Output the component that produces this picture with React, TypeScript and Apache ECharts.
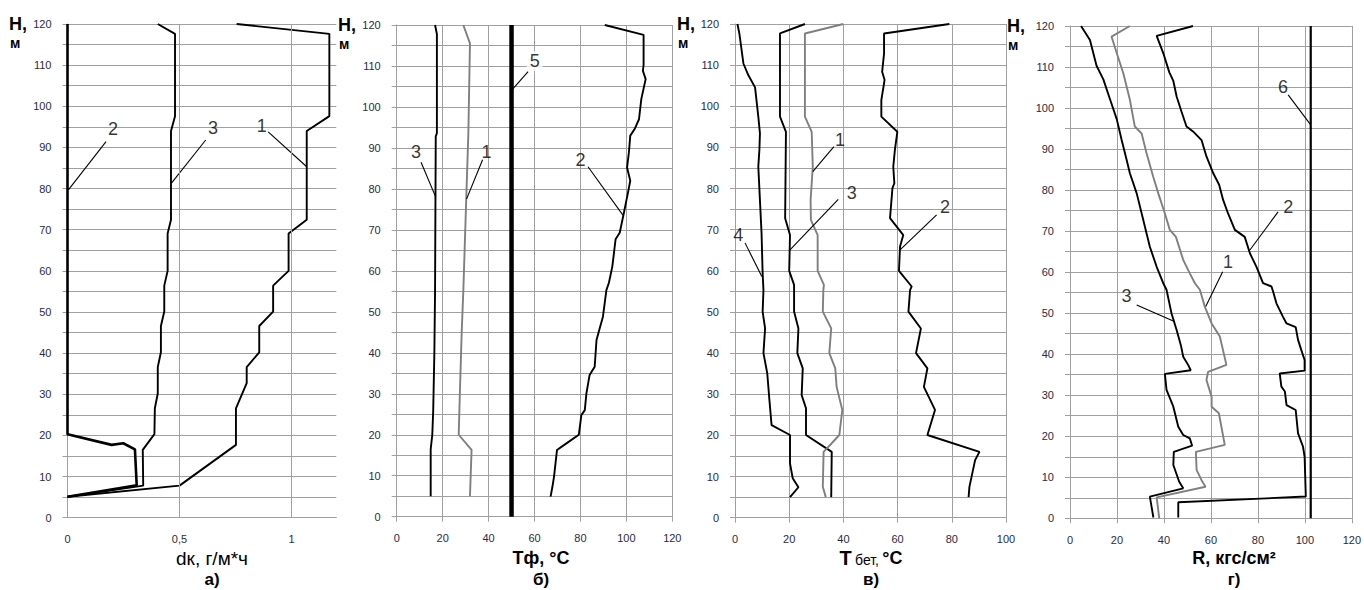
import React, { useEffect, useRef } from "react";
import * as echarts from "echarts";

// ---------- Panel а) dк, г/м*ч : points [value, H] ----------
const dk1 = [[0.755, 120], [1.169, 117.6], [1.169, 97.6], [1.068, 94], [1.068, 72.4], [0.987, 69.1], [0.987, 60], [0.918, 56.4], [0.918, 50.1], [0.856, 46.6], [0.856, 40.2], [0.8, 36.6], [0.8, 32.7], [0.752, 26.6], [0.752, 17.7], [0.5, 7.8], [0, 5.1]];
const dk2 = [[0, 120], [0, 20.3], [0.197, 17.7], [0.249, 18.1], [0.301, 16.6], [0.309, 7.9], [0, 5.1]];
const dk3 = [[0.403, 120], [0.48, 117.6], [0.48, 97.6], [0.462, 94], [0.462, 72.4], [0.447, 69.1], [0.447, 60], [0.432, 56.4], [0.432, 50.1], [0.417, 46.6], [0.417, 40.2], [0.403, 36.6], [0.403, 30.2], [0.39, 26.6], [0.388, 20.3], [0.336, 16.5], [0.338, 7.8], [0, 5.1]];

// ---------- Panel б) Tф, °C ----------
const tf1 = [[29, 120], [31.9, 115.5], [31.2, 93.6], [30.4, 79.7], [29, 55], [28.3, 45], [27.5, 30], [27, 20], [32.6, 16.3], [31.9, 5]];
const tf2 = [[90.6, 120], [107.5, 117.6], [107.5, 110.3], [107.2, 108.8], [108.4, 106.8], [106.5, 101.9], [105.5, 97], [103.6, 94.6], [101.7, 93], [101.1, 88.9], [100.3, 85.2], [101.7, 82], [100.7, 79.1], [98.8, 73.8], [97.1, 69.3], [95.3, 67.7], [93.9, 61.1], [92.4, 57.1], [91.3, 55.3], [89.8, 48.8], [88.4, 46], [87, 43.1], [86.2, 36.6], [84, 34.6], [82.6, 30.1], [81.9, 26], [80.4, 24.8], [79.3, 20], [73.9, 17.9], [69.8, 16.3], [68.5, 9.8], [67.8, 7.3], [67, 4.9]];
const tf3 = [[16.7, 120], [17.5, 117.8], [17.5, 93.6], [17, 92.8], [16.7, 55], [16.4, 40], [15.9, 26], [15.5, 20], [14.8, 16.5], [14.8, 5]];
const tf5 = [[50, 0], [50, 120]];

// ---------- Panel в) T бет, °C ----------
const tb1 = [[40, 120], [25.8, 117.7], [25.8, 97.5], [28.3, 93.8], [28.7, 85.3], [27.9, 77.2], [28, 72.4], [30.5, 68.7], [30.5, 60], [32.8, 56.6], [32.6, 55.3], [32.4, 50.1], [35.5, 46], [34.8, 40], [37, 36.3], [37.5, 31.8], [39.6, 26.2], [38.5, 20.1], [32.7, 16], [32.4, 7.5], [33.5, 5]];
const tb2 = [[79.1, 120], [55, 117.7], [55, 112.8], [54.3, 108.4], [55.2, 106.4], [54, 101.5], [54, 97.5], [59.9, 93.8], [59, 89.4], [58.4, 85.3], [58.8, 81.3], [58.1, 80.1], [57.2, 72.8], [62.1, 68.7], [60.9, 65.9], [60.5, 60], [65.2, 56.2], [64.6, 55.3], [64, 50.1], [68.6, 46], [66.8, 40], [71, 36.3], [69.7, 31.8], [73.8, 26.2], [71, 20.1], [90.2, 16], [88.6, 14], [86.5, 7.5], [86.2, 5]];
const tb3 = [[25.8, 120], [16.6, 117.7], [16.6, 97.5], [18.8, 93.8], [18.5, 72.8], [20.3, 68.7], [20, 60], [21.8, 56.6], [21.8, 50.1], [23.4, 46], [23, 40], [25, 36.3], [24.6, 29.8], [26.2, 26.6], [26.2, 20.1], [35.7, 16], [35.5, 5]];
const tb4 = [[0.9, 120], [1.6, 117.7], [3.1, 110.4], [4.9, 107.6], [7.4, 104.6], [8.6, 97.5], [9.2, 93.4], [9, 89.4], [8.6, 85.3], [9.2, 77.2], [9.8, 69.1], [10.2, 59.4], [10.5, 55.3], [10.2, 50.1], [11.1, 46], [10.5, 40], [11.9, 35.1], [12.7, 28.6], [13.5, 22.5], [20.3, 20.1], [20.3, 13.2], [21.3, 9.6], [23.4, 7.4], [20.3, 5]];

// ---------- Panel г) R, кгс/см² ----------
const r1 = [[25.5, 120], [17.7, 117.4], [19.9, 113.4], [22.7, 108.5], [25.5, 102], [27.6, 95.5], [30.5, 93.8], [32.6, 89], [35.4, 83.3], [37.6, 79.2], [40.4, 74.3], [42.5, 70.3], [45.1, 68.6], [48.2, 63], [51, 59.7], [53.2, 57.3], [55.3, 55.7], [57.4, 51.6], [60.3, 47.5], [63.8, 44.3], [66.6, 37.4], [58.8, 35.7], [58.1, 33.7], [60.3, 29.6], [60.3, 27.2], [63.4, 25.6], [65.9, 17.9], [53.6, 16.2], [53.9, 11.8], [56, 9.3], [57.7, 7.7], [36.9, 5.1], [38, 0]];
const r2 = [[52.4, 120], [36.9, 117.6], [39.7, 113.4], [42.3, 108.7], [44, 106.6], [45.4, 102.8], [47.5, 99.1], [49.6, 95.5], [52.4, 94.3], [56, 92.2], [58.1, 88.2], [61, 84.1], [63.5, 81.3], [65.2, 77.6], [67.3, 74.3], [70.2, 70.3], [74.4, 68.6], [76.6, 64.6], [79.4, 61.3], [82.2, 57.3], [85.8, 56.5], [86.5, 55.2], [87.9, 52.4], [90.7, 49.1], [92.2, 47.5], [96.1, 46.6], [97.1, 43.5], [98.5, 41], [99.9, 38.6], [99.9, 36], [89.3, 35.3], [90, 32.1], [91.5, 30.9], [92.2, 27.6], [96.1, 26.4], [97.1, 20.7], [99.2, 17.5], [99.9, 15], [100.4, 5.3], [46.1, 3.9], [46.1, 0.2]];
const r3 = [[4.7, 120], [8.5, 116.6], [11.3, 110.3], [14.2, 107], [17, 102.2], [19.9, 97.3], [22, 92.2], [24.1, 87.4], [25.5, 84.1], [28.4, 79.2], [31.2, 72.7], [34, 66.2], [36.9, 61.3], [39.7, 57.3], [41.1, 55.7], [43.2, 50], [45.4, 45.9], [47.2, 42.2], [48.2, 39.4], [50.3, 37.4], [51.4, 36.1], [40.4, 35.2], [41.1, 31.3], [44, 27.2], [46.1, 22.3], [48.2, 20.3], [51, 19.5], [52, 17.7], [44.2, 16.2], [44, 13], [46.5, 8.9], [48.2, 7.3], [34, 5.3], [35.5, 0.2]];
const r6 = [[102.5, 0], [102.5, 120]];

// ---------- Axis ranges / tick labels ----------
const xMax = [1.2, 120, 100, 120];
const xStep = [0.5, 20, 20, 20];
const dkGridValues = [0.5, 1];
const hMax = 120;
const hStep = 5;
const hLabelStep = 10;

// ---------- Callout numbers: panel, text, label position, leader line from -> to ----------
const calloutPanel = [0, 0, 0, 1, 1, 1, 1, 2, 2, 2, 2, 3, 3, 3, 3];
const calloutText = ["2", "3", "1", "3", "1", "5", "2", "1", "3", "2", "4", "6", "2", "1", "3"];
const calloutAt = [[0.203, 94.5], [0.65, 94.7], [0.867, 95.2], [8.4, 89.1], [39.1, 89.1], [60.1, 111.2], [80, 87.1], [38.7, 91.8], [43.1, 79], [77.5, 75.4], [1.2, 68.7], [90.7, 105.2], [92.9, 76], [67.3, 62.5], [24.1, 54.2]];
const calloutFrom = [[0.172, 91.4], [0.617, 91.8], [0.896, 93.8], [10.6, 86.5], [37.4, 87.1], [57.2, 108.6], [83.3, 85.4], [36.5, 90.2], [38.1, 77.4], [74.4, 73.6], [3.7, 66.8], [92.9, 103.2], [88.6, 74.7], [65, 60.1], [28.4, 52]];
const calloutTo = [[0.004, 79.7], [0.465, 81.4], [1.068, 85.3], [17, 78], [30.4, 77.5], [50.4, 104.3], [98.5, 73.6], [28.7, 84.1], [20.3, 65.1], [60.9, 65.1], [9.9, 58.6], [102.5, 95.9], [76.6, 65.4], [57.8, 51.6], [44.7, 47.9]];

const FONT = "'Liberation Sans', Arial, sans-serif";
const GRID = "#a0a0a0";
const LABEL = "#2a2a44";
const GREY = "#7f7f7f";

const grids = [
  { left: 67.5, top: 24, width: 268.8, height: 493.7 },
  { left: 396.7, top: 25, width: 275.6, height: 491.7 },
  { left: 735, top: 24, width: 271, height: 493.7 },
  { left: 1070, top: 26, width: 282.3, height: 492.3 },
];
const hPos = [9, 338, 677, 1007];
const titleX = [212, 541, 871, 1234];

function line(gi: number, data: number[][], color: string, width: number) {
  return {
    type: "line",
    xAxisIndex: gi,
    yAxisIndex: gi,
    data,
    symbol: "none",
    silent: true,
    lineStyle: { color, width },
    z: 3,
  };
}

export default function App() {
  const ref = useRef<HTMLDivElement>(null);
  useEffect(() => {
    if (!ref.current) return;
    const chart = echarts.init(ref.current, null, { renderer: "svg" });

    const xAxes = xMax.map((mx, i) => ({
      type: "value",
      gridIndex: i,
      min: 0,
      max: mx,
      interval: xStep[i],
      axisLine: { show: true, onZero: false, lineStyle: { color: GRID } },
      axisTick: { show: i !== 0, length: 5, lineStyle: { color: GRID } },
      axisLabel: {
        margin: 16,
        fontSize: 11,
        color: LABEL,
        fontFamily: FONT,
        showMaxLabel: i !== 0,
        formatter: (v: number) => {
          const r = v / xStep[i];
          if (Math.abs(r - Math.round(r)) > 1e-6) return "";
          return String(v).replace(".", ",");
        },
      },
      splitLine: { show: i !== 0, lineStyle: { color: GRID, width: 1 } },
    }));

    const yAxes = grids.map((_, i) => ({
      type: "value",
      gridIndex: i,
      min: 0,
      max: hMax,
      interval: hStep,
      axisLine: { show: true, lineStyle: { color: GRID } },
      axisTick: { show: true, length: 5, lineStyle: { color: GRID } },
      axisLabel: {
        margin: 16,
        fontSize: 11,
        color: LABEL,
        fontFamily: FONT,
        formatter: (v: number) => (v % hLabelStep === 0 ? String(v) : ""),
      },
      splitLine: { show: true, lineStyle: { color: GRID, width: 1 } },
    }));

    const series: any[] = [
      {
        type: "line",
        xAxisIndex: 0,
        yAxisIndex: 0,
        data: [],
        symbol: "none",
        silent: true,
        z: 1,
        markLine: {
          silent: true,
          symbol: "none",
          label: { show: false },
          lineStyle: { color: GRID, width: 1, type: "solid" },
          data: dkGridValues.map((v) => ({ xAxis: v })),
        },
      },
      line(0, dk3, "#000", 1.9),
      line(0, dk1, "#000", 1.9),
      line(0, dk2, "#000", 2.6),
      line(1, tf1, GREY, 1.9),
      line(1, tf3, "#000", 1.9),
      line(1, tf2, "#000", 1.9),
      line(1, tf5, "#000", 4.5),
      line(2, tb4, "#000", 1.9),
      line(2, tb3, "#000", 1.9),
      line(2, tb1, GREY, 1.9),
      line(2, tb2, "#000", 1.9),
      line(3, r3, "#000", 1.9),
      line(3, r1, GREY, 1.9),
      line(3, r2, "#000", 1.9),
      line(3, r6, "#000", 2.2),
    ];

    calloutText.forEach((t, k) => {
      const gi = calloutPanel[k];
      series.push({
        type: "line",
        xAxisIndex: gi,
        yAxisIndex: gi,
        data: [calloutFrom[k], calloutTo[k]],
        symbol: "none",
        silent: true,
        lineStyle: { color: "#000", width: 1.1 },
        z: 4,
      });
      series.push({
        type: "scatter",
        xAxisIndex: gi,
        yAxisIndex: gi,
        data: [calloutAt[k]],
        symbolSize: 1,
        silent: true,
        itemStyle: { color: "rgba(0,0,0,0)" },
        label: {
          show: true,
          position: "inside",
          formatter: t,
          fontSize: 18,
          fontFamily: FONT,
          color: "#000",
          backgroundColor: t === "5" ? "#fff" : "transparent",
          padding: t === "5" ? [1, 3] : 0,
        },
        z: 5,
      });
    });

    const graphic: any[] = [];
    grids.forEach((g, i) => {
      graphic.push({
        type: "text",
        x: hPos[i],
        y: g.top,
        style: { text: "H,", font: `bold 18px ${FONT}`, fill: "#000", verticalAlign: "middle", align: "left" },
      });
      graphic.push({
        type: "text",
        x: hPos[i] + 1,
        y: g.top + 19,
        style: { text: "м", font: `bold 14px ${FONT}`, fill: "#000", verticalAlign: "middle", align: "left" },
      });
      graphic.push({
        type: "text",
        x: titleX[i],
        y: 579,
        style: { text: ["а)", "б)", "в)", "г)"][i], font: `bold 17px ${FONT}`, fill: "#000", verticalAlign: "middle", align: "center" },
      });
    });
    graphic.push({
      type: "text",
      x: titleX[0],
      y: 558,
      style: { text: "dк, г/м*ч", font: `19px ${FONT}`, fill: "#000", verticalAlign: "middle", align: "center" },
    });
    graphic.push({
      type: "text",
      x: titleX[1],
      y: 558,
      style: { text: "Tф, °C", font: `bold 18px ${FONT}`, fill: "#000", verticalAlign: "middle", align: "center" },
    });
    graphic.push({
      type: "text",
      x: titleX[2],
      y: 558,
      style: {
        text: "{a|T} {b|бет,} {a2|°C}",
        verticalAlign: "middle",
        align: "center",
        rich: {
          a: { font: `bold 20px ${FONT}`, fill: "#000", color: "#000" },
          b: { font: `14px ${FONT}`, fill: "#000", color: "#000", padding: [4, 0, 0, 0] },
          a2: { font: `bold 18px ${FONT}`, fill: "#000", color: "#000" },
        },
      },
    });
    graphic.push({
      type: "text",
      x: titleX[3],
      y: 558,
      style: { text: "R, кгс/см²", font: `bold 18px ${FONT}`, fill: "#000", verticalAlign: "middle", align: "center" },
    });

    chart.setOption({
      animation: false,
      backgroundColor: "#fff",
      grid: grids,
      xAxis: xAxes,
      yAxis: yAxes,
      series,
      graphic,
    });
    return () => chart.dispose();
  }, []);

  return (
    <div
      ref={ref}
      style={{ position: "absolute", left: 0, top: 0, width: 1364, height: 590 }}
    />
  );
}
